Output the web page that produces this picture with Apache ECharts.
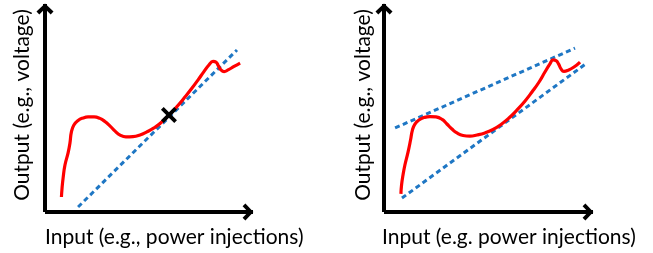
<!DOCTYPE html>
<html><head><meta charset="utf-8">
<script src="https://cdn.jsdelivr.net/npm/echarts@6/dist/echarts.min.js"></script>
<style>html,body{margin:0;padding:0;background:#fff}#c{width:653px;height:253px}</style>
</head><body><div id="c"></div>
<script>
// Left panel data (x, y in arbitrary units 0..10)
const leftCurveX = [0.79,0.82,0.87,0.96,1.11,1.20,1.27,1.39,1.59,1.83,2.07,2.36,2.64,2.88,3.13,3.37,3.61,3.89,4.23,4.57,4.90,5.24,5.53,5.82,6.11,6.39,6.73,7.07,7.36,7.64,7.88,8.08,8.22,8.34,8.46,8.61,8.80,9.09,9.38];
const leftCurveY = [0.72,1.15,1.63,2.26,2.84,3.32,3.85,4.18,4.40,4.52,4.57,4.57,4.50,4.35,4.13,3.89,3.70,3.61,3.62,3.70,3.85,4.04,4.25,4.52,4.81,5.12,5.53,5.96,6.35,6.75,7.07,7.24,7.21,7.02,6.83,6.75,6.83,7.00,7.16];
const leftTangentX = [1.59, 9.23];
const leftTangentY = [0.24, 7.79];
const leftPointX = [5.96];
const leftPointY = [4.66];
// Right panel data
const rightCurveX = [0.81,0.84,0.91,1.00,1.15,1.27,1.36,1.48,1.67,1.91,2.20,2.49,2.78,3.01,3.25,3.49,3.78,4.11,4.45,4.83,5.22,5.60,5.98,6.36,6.75,7.08,7.42,7.70,7.94,8.09,8.23,8.35,8.47,8.61,8.80,9.09,9.38];
const rightCurveY = [0.87,1.30,1.78,2.26,2.88,3.46,3.94,4.23,4.42,4.54,4.59,4.57,4.45,4.23,3.99,3.80,3.68,3.65,3.70,3.80,3.97,4.21,4.52,4.90,5.34,5.77,6.25,6.73,7.12,7.31,7.28,7.12,6.88,6.76,6.81,6.97,7.21];
const rightUpperX = [0.53, 9.14];
const rightUpperY = [4.04, 7.88];
const rightLowerX = [0.86, 9.71];
const rightLowerY = [0.67, 7.16];
const yLabel = 'Output (e.g., voltage)';
const xLabelLeft = 'Input (e.g., power injections)';
const xLabelRight = 'Input (e.g. power injections)';

const zip = (xs, ys) => xs.map((x, i) => [x, ys[i]]);
const FONT = 'Lato';
const FS = 21;
const RED = '#ff0000', BLUE = '#1f77c4';
const chevron = 'path://M0,8 L8.5,0 L17,8 L14.2,10.8 L8.5,5.2 L2.8,10.8 Z';
const cross = 'path://M0,3.4 L3.4,0 L10,6.6 L16.6,0 L20,3.4 L13.4,10 L20,16.6 L16.6,20 L10,13.4 L3.4,20 L0,16.6 L6.6,10 Z';

function axis(idx) {
  return {
    type: 'value', gridIndex: idx, min: 0, max: 10,
    splitLine: {show: false}, axisTick: {show: false}, axisLabel: {show: false},
    axisLine: {show: true, lineStyle: {color: '#000', width: 4, cap: 'butt'},
               symbol: ['none', chevron], symbolSize: [17, 11], symbolOffset: [0, -5]}
  };
}

const chart = echarts.init(document.getElementById('c'), null, {renderer: 'canvas'});
chart.setOption({
  animation: false,
  grid: [
    {left: 45, top: 4, width: 208, height: 208},
    {left: 384, top: 4, width: 209, height: 208}
  ],
  xAxis: [axis(0), axis(1)],
  yAxis: [axis(0), axis(1)],
  graphic: [
    {type: 'text', x: 45, y: 237, style: {text: xLabelLeft, font: FS + 'px ' + FONT, fill: '#000', verticalAlign: 'middle'}},
    {type: 'text', x: 382, y: 237, style: {text: xLabelRight, font: FS + 'px ' + FONT, fill: '#000', verticalAlign: 'middle'}},
    {type: 'text', x: 22, y: 105, rotation: Math.PI / 2, style: {text: yLabel, font: FS + 'px ' + FONT, fill: '#000', align: 'center', verticalAlign: 'middle'}},
    {type: 'text', x: 363, y: 105, rotation: Math.PI / 2, style: {text: yLabel, font: FS + 'px ' + FONT, fill: '#000', align: 'center', verticalAlign: 'middle'}}
  ],
  series: [
    {type: 'line', xAxisIndex: 0, yAxisIndex: 0, data: zip(leftTangentX, leftTangentY), showSymbol: false,
     lineStyle: {color: BLUE, width: 3, type: [5, 3.5]}},
    {type: 'line', xAxisIndex: 0, yAxisIndex: 0, data: zip(leftCurveX, leftCurveY), smooth: 0.5, showSymbol: false,
     lineStyle: {color: RED, width: 3.2}},
    {type: 'scatter', xAxisIndex: 0, yAxisIndex: 0, z: 5, data: zip(leftPointX, leftPointY), symbol: cross,
     symbolSize: 16, itemStyle: {color: '#000', opacity: 1}},
    {type: 'line', xAxisIndex: 1, yAxisIndex: 1, data: zip(rightUpperX, rightUpperY), showSymbol: false,
     lineStyle: {color: BLUE, width: 3, type: [5, 3.5]}},
    {type: 'line', xAxisIndex: 1, yAxisIndex: 1, data: zip(rightLowerX, rightLowerY), showSymbol: false,
     lineStyle: {color: BLUE, width: 3, type: [5, 3.5]}},
    {type: 'line', xAxisIndex: 1, yAxisIndex: 1, data: zip(rightCurveX, rightCurveY), smooth: 0.5, showSymbol: false,
     lineStyle: {color: RED, width: 3.2}}
  ]
});
</script></body></html>
